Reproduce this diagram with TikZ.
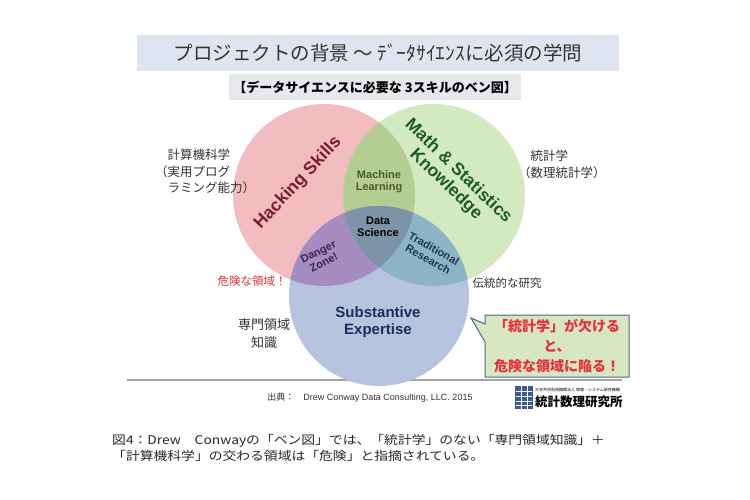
\documentclass[tikz,border=0pt]{standalone}
\usepackage{fontspec}
\setmainfont{Liberation Sans}
\newfontfamily\jp{Noto Sans CJK JP}
\newfontfamily\jpcap[FakeStretch=1.15]{Noto Sans CJK JP}
\usetikzlibrary{positioning, shapes.callouts}
\definecolor{hackred}{HTML}{F2BCC0}
\definecolor{mathgreen}{HTML}{D3E9C0}
\definecolor{substblue}{HTML}{B7C4E0}
\definecolor{mlgreen}{HTML}{B5CD93}
\definecolor{dangerpurple}{HTML}{A68CC0}
\definecolor{tradteal}{HTML}{8CB3C8}
\definecolor{dsslate}{HTML}{7D93A8}
\definecolor{hackdark}{HTML}{7A1E2C}
\definecolor{mathdark}{HTML}{1F5A2E}
\definecolor{mldark}{HTML}{4B5A2E}
\definecolor{dangerdark}{HTML}{3A2452}
\definecolor{traddark}{HTML}{1E3A4E}
\definecolor{substdark}{HTML}{1F2B5C}
\definecolor{titleband}{HTML}{DFE5F0}
\definecolor{subband}{HTML}{E6E8EC}
\definecolor{calloutfill}{HTML}{D8E6C2}
\definecolor{calloutline}{HTML}{4A6A8C}
\definecolor{warnred}{HTML}{E8303A}
\definecolor{darkgray}{HTML}{333333}
\definecolor{logoblue}{HTML}{3A5A9A}
\tikzstyle{sidelabel} = [text=darkgray, font=\jp\fontsize{12.5}{16.5}\selectfont, align=left, inner sep=0pt]
\tikzstyle{biglabel} = [font=\bfseries\fontsize{17.5}{18}\selectfont, align=center, inner sep=0pt]
\tikzstyle{smalllabel} = [font=\bfseries\fontsize{11}{12}\selectfont, align=center, inner sep=0pt]
\tikzstyle{caption} = [text=black!85, font=\jpcap\fontsize{12}{14}\selectfont, inner sep=0pt]

\begin{document}
\begin{tikzpicture}[x=1pt, y=-1pt]
    \useasboundingbox (0,0) rectangle (750,500);
    % Place the headings
    \node [fill=titleband, minimum width=482pt, minimum height=36pt, text=black!80,
           font=\jp\fontsize{19.5}{20}\selectfont] (title) at (378,53) {プロジェクトの背景 ～ ﾃﾞｰﾀｻｲｴﾝｽに必須の学問};
    \node [fill=subband, minimum width=292pt, minimum height=26pt, inner sep=0pt,
           font=\jp\bfseries\fontsize{13}{14}\selectfont] (subtitle) at (375,87) {【データサイエンスに必要な 3スキルのベン図】};
    \draw [gray!70, line width=1.5pt] (127,380) -- (622,380);

    % Place the circles
    \coordinate (hack) at (324,195);
    \coordinate (math) at (434,195);
    \coordinate (subst) at (379,296);
    \fill [hackred] (hack) circle (91pt);
    \fill [mathgreen] (math) circle (91pt);
    \fill [substblue] (subst) circle (90pt);
    \begin{scope}
        \clip (hack) circle (91pt);
        \fill [mlgreen] (math) circle (91pt);
        \fill [dangerpurple] (subst) circle (90pt);
    \end{scope}
    \begin{scope}
        \clip (math) circle (91pt);
        \fill [tradteal] (subst) circle (90pt);
    \end{scope}
    \begin{scope}
        \clip (hack) circle (91pt);
        \clip (math) circle (91pt);
        \fill [dsslate] (subst) circle (90pt);
    \end{scope}

    % Label the regions
    \node [biglabel, text=hackdark, rotate=47] (hacking) at (298,183) {Hacking Skills};
    \node [biglabel, text=mathdark, rotate=-44] (mathstat) at (452,178) {Math \& Statistics\\Knowledge};
    \node [smalllabel, text=mldark] (ml) at (379,182) {Machine\\Learning};
    \node [smalllabel, text=black] (ds) at (378,227) {Data\\Science};
    \node [smalllabel, text=dangerdark, rotate=27] (danger) at (321,257) {Danger\\Zone!};
    \node [smalllabel, text=traddark, rotate=-29] (trad) at (431,254) {Traditional\\Research};
    \node [font=\bfseries\fontsize{15}{17}\selectfont, align=center, text=substdark] (expertise) at (378,322) {Substantive\\Expertise};

    % Side notes
    \node [sidelabel, anchor=north west] (cs) at (155,149) {　計算機科学\\（実用プログ\\　ラミング能力）};
    \node [sidelabel, anchor=north west] (stat) at (518,150) {　統計学\\（数理統計学）};
    \node [sidelabel, text=warnred, font=\jp\fontsize{11.5}{13}\selectfont] (dangernote) at (252,281) {危険な領域！};
    \node [sidelabel, font=\jp\fontsize{11.5}{13}\selectfont] (tradnote) at (507,283) {伝統的な研究};
    \node [sidelabel, align=center, font=\jp\fontsize{13}{18}\selectfont] (domain) at (264,334) {専門領域\\知識};
    \node [rectangle callout, callout absolute pointer={(471,318)}, callout pointer width=18pt,
           fill=calloutfill, draw=calloutline, line width=1pt, minimum width=144pt, minimum height=62pt,
           inner sep=0pt, text=warnred, font=\jp\bfseries\fontsize{14}{20}\selectfont, align=center]
           (warning) at (557,346) {「統計学」が欠ける\\と、\\危険な領域に陥る！};

    % Source and logo
    \node [text=darkgray, font=\fontsize{9}{10}\selectfont] (source) at (370,398) {{\jp 出典：}\quad Drew Conway Data Consulting, LLC. 2015};
    \fill [logoblue] (515,386) rectangle (533,409);
    \foreach \y in {391,396,401,405}
        \draw [white, line width=0.6pt] (516,\y) -- (532,\y);
    \draw [white, line width=0.6pt] (521,386) -- (521,409) (527,386) -- (527,409);
    \node [anchor=west, inner sep=0pt, font=\jp\fontsize{4}{5}\selectfont] (institute) at (535,390) {大学共同利用機関法人 情報・システム研究機構};
    \node [anchor=west, inner sep=0pt, font=\jp\bfseries\fontsize{12.5}{13}\selectfont] (ism) at (535,402) {統計数理研究所};

    % Caption
    \node [caption, anchor=west] (cap1) at (112,441) {図4：Drew　Conwayの「ベン図」では、「統計学」のない「専門領域知識」＋};
    \node [caption, below=2pt of cap1.south west, anchor=north west] (cap2) {「計算機科学」の交わる領域は「危険」と指摘されている。};
\end{tikzpicture}
\end{document}
